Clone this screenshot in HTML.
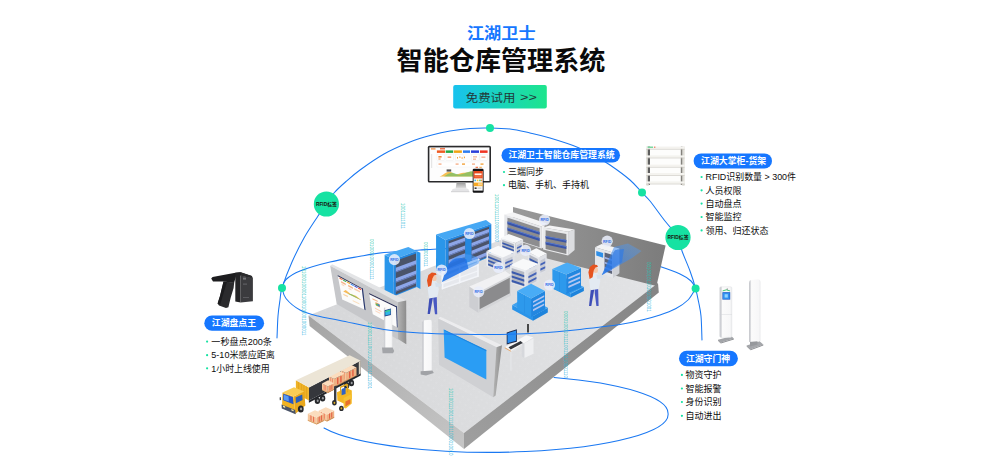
<!DOCTYPE html>
<html lang="zh-CN"><head><meta charset="utf-8"><title>江湖卫士 智能仓库管理系统</title>
<style>
html,body{margin:0;padding:0;background:#fff;}
body{width:1000px;height:459px;overflow:hidden;position:relative;font-family:"Liberation Sans",sans-serif;}
#stage{position:absolute;left:0;top:0;width:1000px;height:459px;overflow:hidden;background:#fff;}
#stage svg{position:absolute;left:0;top:0;display:block;}
.t span{position:absolute;white-space:nowrap;color:transparent;line-height:1;overflow:hidden;}
#stage svg text.lbl{font-family:"Liberation Sans","Noto Sans CJK SC",sans-serif;}
</style></head><body>
<div id="stage">
<div class="t">
<span style="left:466.9px;top:24.9px;font-size:15.7px;width:68.7px">江湖卫士</span>
<span style="left:396.6px;top:47.4px;font-size:25.6px;width:208.8px">智能仓库管理系统</span>
<span style="left:465.8px;top:91.9px;font-size:11.4px;width:49.6px">免费试用</span>
<span style="left:520.0px;top:91.9px;font-size:10.6px;width:16.8px">&gt;&gt;</span>
<span style="left:390.2px;top:257.7px;font-size:3.6px;width:12.3px">RFID</span>
<span style="left:465.2px;top:231.6px;font-size:3.6px;width:12.3px">RFID</span>
<span style="left:437.5px;top:268.1px;font-size:3.6px;width:12.3px">RFID</span>
<span style="left:474.5px;top:290.0px;font-size:3.6px;width:12.3px">RFID</span>
<span style="left:494.3px;top:265.6px;font-size:3.6px;width:12.3px">RFID</span>
<span style="left:540.4px;top:218.1px;font-size:3.6px;width:12.3px">RFID</span>
<span style="left:521.4px;top:248.5px;font-size:3.6px;width:12.3px">RFID</span>
<span style="left:603.0px;top:239.3px;font-size:3.6px;width:12.3px">RFID</span>
<span style="left:545.3px;top:283.1px;font-size:3.6px;width:12.3px">RFID</span>
<span style="left:315.9px;top:201.6px;font-size:4.8px;width:25.1px">RFID标签</span>
<span style="left:667.5px;top:235.1px;font-size:4.8px;width:25.1px">RFID标签</span>
<span style="left:508.4px;top:150.6px;font-size:8.85px;width:110.2px">江湖卫士智能仓库管理系统</span>
<span style="left:507.9px;top:167.3px;font-size:9.0px;width:40.0px">三端同步</span>
<span style="left:507.9px;top:180.5px;font-size:9.0px;width:85.0px">电脑、手机、手持机</span>
<span style="left:701.0px;top:156.3px;font-size:8.85px;width:69.2px">江湖大掌柜-货架</span>
<span style="left:705.5px;top:172.3px;font-size:9.0px;width:94.7px">RFID识别数量 &gt; 300件</span>
<span style="left:705.5px;top:185.6px;font-size:9.0px;width:40.0px">人员权限</span>
<span style="left:705.5px;top:198.9px;font-size:9.0px;width:40.0px">自动盘点</span>
<span style="left:705.5px;top:212.3px;font-size:9.0px;width:40.0px">智能监控</span>
<span style="left:705.5px;top:225.7px;font-size:9.0px;width:67.0px">领用、归还状态</span>
<span style="left:211.8px;top:318.5px;font-size:8.85px;width:48.2px">江湖盘点王</span>
<span style="left:211.3px;top:336.9px;font-size:9.0px;width:64.7px">一秒盘点200条</span>
<span style="left:211.3px;top:350.5px;font-size:9.0px;width:68.0px">5-10米感应距离</span>
<span style="left:211.3px;top:363.6px;font-size:9.0px;width:63.2px">1小时上线使用</span>
<span style="left:685.9px;top:353.9px;font-size:8.85px;width:48.2px">江湖守门神</span>
<span style="left:685.4px;top:370.2px;font-size:9.0px;width:40.0px">物资守护</span>
<span style="left:685.4px;top:383.8px;font-size:9.0px;width:40.0px">智能报警</span>
<span style="left:685.4px;top:397.3px;font-size:9.0px;width:40.0px">身份识别</span>
<span style="left:685.4px;top:411.1px;font-size:9.0px;width:40.0px">自动进出</span>
</div>
<svg width="1000" height="459" viewBox="0 0 1000 459">
<defs>
<linearGradient id="btn" x1="0" x2="1" y1="0" y2="0"><stop offset="0" stop-color="#18c2ee"/><stop offset="1" stop-color="#1de58c"/></linearGradient>
<linearGradient id="slabL" x1="0" x2="1" y1="0" y2="1"><stop offset="0" stop-color="#a4a4a4"/><stop offset="1" stop-color="#c6c6c6"/></linearGradient>
<linearGradient id="slabR" x1="0" x2="1" y1="1" y2="0"><stop offset="0" stop-color="#9f9f9f"/><stop offset="1" stop-color="#848484"/></linearGradient>
<linearGradient id="slabT" x1="0" x2="1" y1="0" y2="0"><stop offset="0" stop-color="#d6d7d9"/><stop offset="1" stop-color="#e2e3e5"/></linearGradient>
<linearGradient id="wallB" x1="0" x2="1" y1="0" y2="0"><stop offset="0" stop-color="#9a9a9a"/><stop offset="1" stop-color="#7c7c7c"/></linearGradient>
<linearGradient id="capG" x1="0" x2="1" y1="0" y2="0"><stop offset="0" stop-color="#b4b4b4"/><stop offset="1" stop-color="#8c8c8c"/></linearGradient>
<linearGradient id="beam" x1="0" x2="1" y1="1" y2="0"><stop offset="0" stop-color="#1a6fe8" stop-opacity=".95"/><stop offset="1" stop-color="#5aa2f5" stop-opacity=".45"/></linearGradient>
<linearGradient id="gateG" x1="0" x2="1" y1="0" y2="0"><stop offset="0" stop-color="#c2c4c9"/><stop offset=".16" stop-color="#dfe0e3"/><stop offset=".22" stop-color="#fbfbfb"/><stop offset=".85" stop-color="#f7f7f8"/><stop offset="1" stop-color="#e9eaec"/></linearGradient>
<linearGradient id="neck" x1="0" x2="0" y1="0" y2="1"><stop offset="0" stop-color="#9a9a9a"/><stop offset="1" stop-color="#e6e6e6"/></linearGradient>
<linearGradient id="binG" x1="0" x2="1" y1="0" y2="0"><stop offset="0" stop-color="#21caae"/><stop offset="1" stop-color="#2ab0e4"/></linearGradient>
<pattern id="dots" width="6" height="6" patternUnits="userSpaceOnUse" patternTransform="rotate(28)"><circle cx="1" cy="1" r=".45" fill="#ececee"/></pattern>
</defs>
<text class="lbl" x="466.9" y="38.7" font-size="15.7" font-weight="bold" fill="#1677ff" textLength="68.7" lengthAdjust="spacingAndGlyphs">江湖卫士</text>
<text class="lbl" x="396.6" y="69.9" font-size="25.6" font-weight="bold" fill="#0a0a0a" textLength="208.8" lengthAdjust="spacingAndGlyphs">智能仓库管理系统</text>
<rect x="453.2" y="85" width="93.6" height="23.6" rx="2" fill="url(#btn)"/>
<text class="lbl" x="465.8" y="101.9" font-size="11.4" fill="#223838" textLength="49.6" lengthAdjust="spacingAndGlyphs">免费试用</text>
<text class="lbl" x="520" y="101.2" font-size="10.6" fill="#223838" textLength="16.8" lengthAdjust="spacingAndGlyphs">&gt;&gt;</text>
<path d="M282.0,288.0 C282.7,286.6 283.0,282.3 286.0,279.5 C289.0,276.7 292.7,273.9 300.0,271.0 C307.3,268.1 320.0,264.4 330.0,262.0 C340.0,259.6 351.0,257.9 360.0,256.3 C369.0,254.7 374.0,253.7 384.0,252.6 C394.0,251.5 409.0,250.7 420.0,250.0 C431.0,249.3 438.5,248.8 450.0,248.4 C461.5,248.0 474.0,247.6 489.0,247.7 C504.0,247.8 521.5,247.9 540.0,249.0 C558.5,250.1 583.3,252.0 600.0,254.0 C616.7,256.0 630.0,258.9 640.0,261.0 C650.0,263.1 653.3,264.3 660.0,266.5 C666.7,268.7 674.8,271.6 680.0,274.0 C685.2,276.4 688.4,278.6 691.0,281.0 C693.6,283.4 694.8,287.3 695.6,288.6" fill="none" stroke="#1a78f2" stroke-width="1.05" stroke-linecap="round" />
<path d="M277.0,338.0 C277.2,334.3 277.5,322.3 278.0,316.0 C278.5,309.7 279.3,304.7 280.0,300.0 C280.7,295.3 280.0,294.3 282.0,288.0 C284.0,281.7 288.3,270.3 292.0,262.0 C295.7,253.7 299.7,245.7 304.0,238.0 C308.3,230.3 314.3,221.7 318.0,216.0 C321.7,210.3 323.3,207.8 326.0,204.0 C328.7,200.2 330.7,196.8 334.0,193.0 C337.3,189.2 341.7,185.3 346.0,181.5 C350.3,177.7 353.7,174.6 360.0,170.0 C366.3,165.4 375.7,158.7 384.0,154.0 C392.3,149.3 402.0,145.2 410.0,142.0 C418.0,138.8 425.3,136.8 432.0,135.0 C438.7,133.2 443.7,132.1 450.0,131.0 C456.3,129.9 463.3,128.9 470.0,128.4 C476.7,127.9 483.3,127.9 490.0,128.0 C496.7,128.1 503.3,128.2 510.0,129.0 C516.7,129.8 523.3,131.5 530.0,133.0 C536.7,134.5 542.0,135.6 550.0,138.0 C558.0,140.4 570.3,144.3 578.0,147.4 C585.7,150.5 590.7,153.6 596.0,156.5 C601.3,159.4 604.3,161.1 610.0,165.0 C615.7,168.9 624.7,175.4 630.0,180.0 C635.3,184.6 638.7,189.1 642.0,192.6 C645.3,196.1 646.2,196.3 650.0,201.0 C653.8,205.7 660.3,215.0 665.0,221.0 C669.7,227.0 675.2,232.0 678.0,237.0 C680.8,242.0 680.0,245.3 682.0,251.0 C684.0,256.7 687.7,264.7 690.0,271.0 C692.3,277.3 694.2,283.4 695.6,288.6 C697.0,293.8 697.7,297.4 698.6,302.0 C699.5,306.6 700.4,309.7 701.0,316.0 C701.6,322.3 701.8,336.0 702.0,340.0" fill="none" stroke="#1a78f2" stroke-width="1.05" stroke-linecap="round" />
<polygon points="308.5,315.4 464,433 658,283 513,235" fill="url(#slabT)" />
<polygon points="308.5,315.4 464,433 658,283 513,235" fill="url(#dots)" />
<polygon points="308.5,315.4 464,433 464,449 309.6,326" fill="url(#slabL)" />
<polygon points="464,433 658,283 658.8,292.5 464,449" fill="url(#slabR)" />
<polygon points="513,207 665.6,245.6 656.5,286 513,250" fill="url(#wallB)" />
<polygon points="504.3,214.4 513,212.2 547,223.5 541.3,226.5" fill="#f4f4f5" />
<polygon points="504.3,214.4 541.3,226.5 541.3,248.5 504.3,236.5" fill="#e6e7ea" />
<polygon points="507.445,217.638 539.635,228.156 539.635,247.3 507.445,236.857" fill="#8d8d8f" />
<polygon points="507.445,221.393 539.635,231.897 539.635,234.757 507.445,224.265" fill="#3854a8" />
<polygon points="507.445,227.579 539.635,238.058 539.635,240.919 507.445,230.451" fill="#3854a8" />
<polygon points="507.445,221.393 539.635,231.897 539.635,232.667 507.445,222.166" fill="#5f80d4" />
<polygon points="507.445,227.579 539.635,238.058 539.635,238.828 507.445,228.352" fill="#5f80d4" />
<polygon points="541.3,226.5 544.5,225 544.5,247 541.3,248.5" fill="#f1f1f3" />
<polygon points="543.1,227.4 549.6,225.6 574.6,229.6 568.1,231.8" fill="#f4f4f5" />
<polygon points="543.1,227.4 568.1,231.8 568.1,255.6 543.1,249.6" fill="#e9eaec" />
<polygon points="545.6,230.3 566.35,234.098 566.35,253.996 545.6,249.082" fill="#88888a" />
<polygon points="545.6,235.89 566.35,240.02 566.35,242.862 545.6,238.573" fill="#3854a8" />
<polygon points="545.6,241.703 566.35,246.179 566.35,249.021 545.6,244.386" fill="#3854a8" />
<polygon points="545.6,235.89 566.35,240.02 566.35,240.849 545.6,236.672" fill="#5f80d4" />
<polygon points="545.6,241.703 566.35,246.179 566.35,247.008 545.6,242.486" fill="#5f80d4" />
<polygon points="568.1,231.8 574.6,229.6 574.6,250 568.1,255.6" fill="#dcdde0" />
<polygon points="595,247.2 601.6,243.9 619.4,248.6 613,252.6" fill="#f2f3f5" />
<polygon points="613,252.6 619.4,248.6 619.4,273.2 613,278" fill="#cfd1d6" />
<polygon points="595,247.2 613,252.6 613,278 595,270.8" fill="#e4e6ea" />
<polygon points="596.26,250.9 603.1,253.047 603.1,257.685 596.26,255.408" fill="#2f8fe8" />
<polygon points="604.54,252.517 612.1,254.861 612.1,274.097 604.54,271.178" fill="#5d6478" />
<polygon points="604.54,256.692 612.1,259.164 612.1,260.935 604.54,258.41" fill="#9fb2e6" />
<polygon points="604.54,261.848 612.1,264.479 612.1,266.25 604.54,263.567" fill="#9fb2e6" />
<polygon points="604.54,266.759 612.1,269.541 612.1,271.312 604.54,268.477" fill="#9fb2e6" />
<polygon points="436.1,234.4 445.4,240 445.4,276 436,270.5" fill="#2a96ea" />
<polygon points="436.1,234.4 486,220 491.3,223.9 445.4,240" fill="#46a8f4" />
<polygon points="445.4,240 491.3,223.9 491.3,256 445.4,276" fill="#2588e0" />
<polygon points="448.613,241.017 465.137,235.136 465.137,266.37 448.613,273.528" fill="#4a5369" />
<polygon points="448.613,243.518 465.137,237.539 465.137,240.971 448.613,247.09" fill="#8da6e8" />
<polygon points="448.613,251.735 465.137,245.433 465.137,248.866 448.613,255.307" fill="#8da6e8" />
<polygon points="448.613,259.952 465.137,253.328 465.137,256.76 448.613,263.525" fill="#8da6e8" />
<polygon points="448.613,268.169 465.137,261.222 465.137,264.654 448.613,271.742" fill="#8da6e8" />
<polygon points="448.613,247.09 465.137,240.971 465.137,241.829 448.613,247.983" fill="#6f86c8" />
<polygon points="448.613,255.307 465.137,248.866 465.137,249.724 448.613,256.201" fill="#6f86c8" />
<polygon points="448.613,263.525 465.137,256.76 465.137,257.618 448.613,264.418" fill="#6f86c8" />
<polygon points="448.613,271.742 465.137,264.654 465.137,265.512 448.613,272.635" fill="#6f86c8" />
<polygon points="471.563,232.85 489.005,226.643 489.005,256.031 471.563,263.587" fill="#4a5369" />
<polygon points="471.563,235.214 489.005,228.903 489.005,232.133 471.563,238.592" fill="#8da6e8" />
<polygon points="471.563,242.983 489.005,236.331 489.005,239.561 471.563,246.36" fill="#8da6e8" />
<polygon points="471.563,250.751 489.005,243.759 489.005,246.989 471.563,254.129" fill="#8da6e8" />
<polygon points="471.563,258.52 489.005,251.187 489.005,254.416 471.563,261.898" fill="#8da6e8" />
<polygon points="471.563,238.592 489.005,232.133 489.005,232.94 471.563,239.436" fill="#6f86c8" />
<polygon points="471.563,246.36 489.005,239.561 489.005,240.368 471.563,247.205" fill="#6f86c8" />
<polygon points="471.563,254.129 489.005,246.989 489.005,247.796 471.563,254.974" fill="#6f86c8" />
<polygon points="471.563,261.898 489.005,254.416 489.005,255.224 471.563,262.742" fill="#6f86c8" />
<polygon points="384.6,254.8 393.5,259.4 393.5,296.5 384.6,291" fill="#2a96ea" />
<polygon points="384.6,254.8 408.3,246.9 416.7,251.1 393.5,259.4" fill="#46a8f4" />
<polygon points="393.5,259.4 416.7,251.1 416.7,287 393.5,296.5" fill="#2588e0" />
<polygon points="395.82,260.789 416.004,253.505 416.004,286.207 395.82,294.441" fill="#4a5369" />
<polygon points="395.82,267.815 416.004,260.333 416.004,263.927 395.82,271.513" fill="#8da6e8" />
<polygon points="395.82,278.169 416.004,270.395 416.004,273.989 395.82,281.867" fill="#8da6e8" />
<polygon points="395.82,287.045 416.004,279.02 416.004,282.613 395.82,290.743" fill="#8da6e8" />
<polygon points="395.82,271.513 416.004,263.927 416.004,264.825 395.82,272.438" fill="#6f86c8" />
<polygon points="395.82,281.867 416.004,273.989 416.004,274.887 395.82,282.792" fill="#6f86c8" />
<polygon points="395.82,290.743 416.004,282.613 416.004,283.512 395.82,291.667" fill="#6f86c8" />
<polygon points="416.7,251.1 420.4,252.8 420.4,289 416.7,287" fill="#2a96ea" />
<polygon points="500.9,237.9 515.3,243.1 515.3,256.1 500.9,250.9" fill="#e9ebef" />
<polygon points="515.3,243.1 523.1,239.2 523.1,252.2 515.3,256.1" fill="#dfe1e6" />
<polygon points="515.3,243.1 523.1,239.2 508.7,234 500.9,237.9" fill="#f8f9fa" />
<polygon points="502.34,239.98 513.86,244.14 513.86,254.93 502.34,250.77" fill="#b4b8c2" />
<polygon points="502.34,242.32 513.86,246.48 513.86,248.04 502.34,243.88" fill="#3a5aad" />
<polygon points="502.34,245.57 513.86,249.73 513.86,251.29 502.34,247.13" fill="#3a5aad" />
<polygon points="502.34,248.82 513.86,252.98 513.86,254.54 502.34,250.38" fill="#3a5aad" />
<polygon points="516.86,245.18 521.696,242.762 521.696,251.862 516.86,254.28" fill="#c6c9d2" />
<polygon points="516.86,247.52 521.696,245.102 521.696,246.662 516.86,249.08" fill="#4363b8" />
<polygon points="516.86,251.16 521.696,248.742 521.696,250.302 516.86,252.72" fill="#4363b8" />
<polygon points="528.4,252.2 538.8,257.4 538.8,275 528.4,269.8" fill="#e9ebef" />
<polygon points="538.8,257.4 546.7,253.5 546.7,271.1 538.8,275" fill="#dfe1e6" />
<polygon points="538.8,257.4 546.7,253.5 536.3,248.3 528.4,252.2" fill="#f8f9fa" />
<polygon points="529.44,254.832 537.76,258.992 537.76,273.6 529.44,269.44" fill="#b4b8c2" />
<polygon points="529.44,258 537.76,262.16 537.76,264.272 529.44,260.112" fill="#3a5aad" />
<polygon points="529.44,262.4 537.76,266.56 537.76,268.672 529.44,264.512" fill="#3a5aad" />
<polygon points="529.44,266.8 537.76,270.96 537.76,273.072 529.44,268.912" fill="#3a5aad" />
<polygon points="540.38,260.492 545.278,258.074 545.278,270.394 540.38,272.812" fill="#c6c9d2" />
<polygon points="540.38,263.66 545.278,261.242 545.278,263.354 540.38,265.772" fill="#4363b8" />
<polygon points="540.38,268.588 545.278,266.17 545.278,268.282 540.38,270.7" fill="#4363b8" />
<polygon points="486.5,250.9 502.9,257.4 502.9,272.4 486.5,265.9" fill="#e9ebef" />
<polygon points="502.9,257.4 514.6,252.2 514.6,267.2 502.9,272.4" fill="#dfe1e6" />
<polygon points="502.9,257.4 514.6,252.2 498.2,245.7 486.5,250.9" fill="#f8f9fa" />
<polygon points="488.14,253.35 501.26,258.55 501.26,271 488.14,265.8" fill="#b4b8c2" />
<polygon points="488.14,256.05 501.26,261.25 501.26,263.05 488.14,257.85" fill="#3a5aad" />
<polygon points="488.14,259.8 501.26,265 501.26,266.8 488.14,261.6" fill="#3a5aad" />
<polygon points="488.14,263.55 501.26,268.75 501.26,270.55 488.14,265.35" fill="#3a5aad" />
<polygon points="505.24,259.66 512.494,256.436 512.494,266.936 505.24,270.16" fill="#c6c9d2" />
<polygon points="505.24,262.36 512.494,259.136 512.494,260.936 505.24,264.16" fill="#4363b8" />
<polygon points="505.24,266.56 512.494,263.336 512.494,265.136 505.24,268.36" fill="#4363b8" />
<polygon points="510.1,265.3 525.8,270.5 525.8,288 510.1,282.8" fill="#e9ebef" />
<polygon points="525.8,270.5 538.8,263.9 538.8,281.4 525.8,288" fill="#dfe1e6" />
<polygon points="525.8,270.5 538.8,263.9 523.1,258.7 510.1,265.3" fill="#f8f9fa" />
<polygon points="511.67,267.92 524.23,272.08 524.23,286.605 511.67,282.445" fill="#b4b8c2" />
<polygon points="511.67,271.07 524.23,275.23 524.23,277.33 511.67,273.17" fill="#3a5aad" />
<polygon points="511.67,275.445 524.23,279.605 524.23,281.705 511.67,277.545" fill="#3a5aad" />
<polygon points="511.67,279.82 524.23,283.98 524.23,286.08 511.67,281.92" fill="#3a5aad" />
<polygon points="528.4,273.03 536.46,268.938 536.46,281.188 528.4,285.28" fill="#c6c9d2" />
<polygon points="528.4,276.18 536.46,272.088 536.46,274.188 528.4,278.28" fill="#4363b8" />
<polygon points="528.4,281.08 536.46,276.988 536.46,279.088 528.4,283.18" fill="#4363b8" />
<polygon points="441.5,271.9 478.3,258.8 478.3,276.8 441.8,289.5" fill="#eef2fa" fill-opacity=".55"/>
<polygon points="441.5,271.9 443.1,271.4 443.4,289 441.8,289.5" fill="#f4f6fa" />
<polygon points="458.796,265.743 460.396,265.243 460.555,283.031 458.955,283.531" fill="#f4f6fa" />
<polygon points="477.196,259.193 478.796,258.693 478.805,276.681 477.205,277.181" fill="#f4f6fa" />
<polygon points="441.5,271.9 478.3,258.8 478.3,260.24 441.524,273.308" fill="#f3f5f9" fill-opacity=".9"/>
<polygon points="441.593,277.356 478.3,264.38 478.3,265.82 441.617,278.764" fill="#f3f5f9" fill-opacity=".9"/>
<polygon points="441.689,282.988 478.3,270.14 478.3,271.58 441.713,284.396" fill="#f3f5f9" fill-opacity=".9"/>
<polygon points="441.776,288.092 478.3,275.36 478.3,276.8 441.8,289.5" fill="#f3f5f9" fill-opacity=".9"/>
<polygon points="441.5,271.9 478.3,258.8 480.5,260 443.7,273.2" fill="#fbfcfe" />
<path d="M442,282 L446.6,268 Q451,257.5 459,255.2 Q468,252.6 475.5,256.4 Q480,259 478.6,263.6 Z" fill="#4a98f4" fill-opacity=".55"/>
<path d="M442,282 L446.6,268 Q450,260.5 456,258.6 Q462,257 466.5,259.4 L468.4,268.4 Z" fill="#1f6fe6" fill-opacity=".78"/>
<polygon points="469.3,286.6 478.3,292.3 478.3,312.7 469.3,307" fill="#cdced2" />
<polygon points="478.3,292.3 511,275.1 511,295.6 478.3,312.7" fill="#d4d5d8" />
<polygon points="479.6,293.6 509.8,277.8 509.8,293.2 479.6,309.2" fill="#8b8b8d" />
<polygon points="469.3,286.6 505.3,271 511,275.1 478.3,292.3" fill="#f1f1f3" />
<polygon points="570.9,297.6 552.4,288.6 552.4,284.6 570.9,293.6" fill="#2a93e8" />
<polygon points="570.9,297.6 583.9,291.1 583.9,287.1 570.9,293.6" fill="#1e84dc" />
<polygon points="570.9,293.6 583.9,287.1 565.4,278.1 552.4,284.6" fill="#3fa2f0" />
<polygon points="566.3,293.9 552.4,288.4 552.4,268.9 566.3,274.4" fill="#2d99ec" />
<polygon points="566.3,293.9 581,287.5 581,268 566.3,274.4" fill="#2287e0" />
<polygon points="566.3,274.4 581,268 567.1,262.5 552.4,268.9" fill="#49acf6" />
<polygon points="568.358,277.404 580.118,272.284 580.118,274.234 568.358,279.354" fill="#b4c6f2" />
<polygon points="568.358,281.694 580.118,276.574 580.118,278.524 568.358,283.644" fill="#b4c6f2" />
<polygon points="568.358,285.984 580.118,280.864 580.118,282.814 568.358,287.934" fill="#b4c6f2" />
<polygon points="559.211,272.375 559.628,272.54 559.628,291.26 559.211,291.095" fill="#2387dc" />
<polygon points="429.6,295.9 433.4,294.9 429.9,314 427.6,314" fill="#3d4db6" />
<polygon points="433,293.9 436.7,294.9 437.2,314.2 435,314.2 433.4,301.4" fill="#4858c2" />
<polygon points="428.4,281 434.6,279.4 437.8,283.4 438.8,289.4 437.4,297 429,298.4 427.8,289.4" fill="#e3eaf2" />
<polygon points="435,282.4 441.8,284 441.6,286.2 435.8,287" fill="#d6e0ec" />
<ellipse cx="434.3" cy="278.2" rx="2.3" ry="2.9" fill="#f4c9ae"/>
<polygon points="431.8,272.6 435.6,273 436.6,274.8 434,275.6 432.4,278.4 431.2,285.4 428.2,287 427,280.4 428.4,275" fill="#e5531f" />
<polygon points="533,320.7 512.2,309.6 512.2,305 533,316.1" fill="#2a93e8" />
<polygon points="533,320.7 547.8,312.4 547.8,307.8 533,316.1" fill="#1e84dc" />
<polygon points="533,316.1 547.8,307.8 527,296.7 512.2,305" fill="#3fa2f0" />
<polygon points="531.1,317 517.2,309.6 517.2,291.1 531.1,298.5" fill="#2d99ec" />
<polygon points="531.1,317 545,309.6 545,291.1 531.1,298.5" fill="#2287e0" />
<polygon points="531.1,298.5 545,291.1 531.1,283.7 517.2,291.1" fill="#49acf6" />
<polygon points="533.046,301.164 544.166,295.244 544.166,297.094 533.046,303.014" fill="#b4c6f2" />
<polygon points="533.046,305.234 544.166,299.314 544.166,301.164 533.046,307.084" fill="#b4c6f2" />
<polygon points="533.046,309.304 544.166,303.384 544.166,305.234 533.046,311.154" fill="#b4c6f2" />
<polygon points="524.011,295.466 524.428,295.688 524.428,313.448 524.011,313.226" fill="#2387dc" />
<polygon points="601.7,275.2 614,247 628,243.5 641.5,251 632,258" fill="url(#beam)" opacity=".8"/>
<polygon points="601.7,275.2 615,250 624,249 622,262" fill="#2a78ea" fill-opacity=".6"/>
<polygon points="591,287.8 594.8,286.8 591.3,305.9 589,305.9" fill="#3d4db6" />
<polygon points="594.4,285.8 598.1,286.8 598.6,306.1 596.4,306.1 594.8,293.3" fill="#4858c2" />
<polygon points="589.8,272.9 596,271.3 599.2,275.3 600.2,281.3 598.8,288.9 590.4,290.3 589.2,281.3" fill="#e3eaf2" />
<polygon points="596.4,274.3 603.2,275.9 603,278.1 597.2,278.9" fill="#d6e0ec" />
<ellipse cx="595.7" cy="270.1" rx="2.3" ry="2.9" fill="#f4c9ae"/>
<polygon points="593.2,264.5 597,264.9 598,266.7 595.4,267.5 593.8,270.3 592.6,277.3 589.6,278.9 588.4,272.3 589.8,266.9" fill="#e5531f" />
<circle cx="394.4" cy="259.6" r="5.6" fill="#e8edfb" fill-opacity=".88"/>
<text class="lbl" x="390.2" y="260.9" font-size="3.6" font-weight="bold" fill="#2f6fe8" textLength="8.4" lengthAdjust="spacingAndGlyphs">RFID</text>
<circle cx="469.4" cy="233.5" r="5.6" fill="#e8edfb" fill-opacity=".88"/>
<text class="lbl" x="465.2" y="234.8" font-size="3.6" font-weight="bold" fill="#2f6fe8" textLength="8.4" lengthAdjust="spacingAndGlyphs">RFID</text>
<circle cx="441.7" cy="270" r="5.6" fill="#e8edfb" fill-opacity=".88"/>
<text class="lbl" x="437.5" y="271.3" font-size="3.6" font-weight="bold" fill="#2f6fe8" textLength="8.4" lengthAdjust="spacingAndGlyphs">RFID</text>
<circle cx="478.7" cy="291.9" r="5.6" fill="#e8edfb" fill-opacity=".88"/>
<text class="lbl" x="474.5" y="293.2" font-size="3.6" font-weight="bold" fill="#2f6fe8" textLength="8.4" lengthAdjust="spacingAndGlyphs">RFID</text>
<circle cx="498.5" cy="267.5" r="5.6" fill="#e8edfb" fill-opacity=".88"/>
<text class="lbl" x="494.3" y="268.8" font-size="3.6" font-weight="bold" fill="#2f6fe8" textLength="8.4" lengthAdjust="spacingAndGlyphs">RFID</text>
<circle cx="544.6" cy="220" r="5.6" fill="#e8edfb" fill-opacity=".88"/>
<text class="lbl" x="540.4" y="221.3" font-size="3.6" font-weight="bold" fill="#2f6fe8" textLength="8.4" lengthAdjust="spacingAndGlyphs">RFID</text>
<circle cx="525.6" cy="250.4" r="5.6" fill="#e8edfb" fill-opacity=".88"/>
<text class="lbl" x="521.4" y="251.7" font-size="3.6" font-weight="bold" fill="#2f6fe8" textLength="8.4" lengthAdjust="spacingAndGlyphs">RFID</text>
<circle cx="607.2" cy="241.2" r="5.6" fill="#e8edfb" fill-opacity=".88"/>
<text class="lbl" x="603" y="242.5" font-size="3.6" font-weight="bold" fill="#2f6fe8" textLength="8.4" lengthAdjust="spacingAndGlyphs">RFID</text>
<circle cx="549.5" cy="285" r="5.6" fill="#e8edfb" fill-opacity=".88"/>
<text class="lbl" x="545.3" y="286.3" font-size="3.6" font-weight="bold" fill="#2f6fe8" textLength="8.4" lengthAdjust="spacingAndGlyphs">RFID</text>
<polygon points="330.2,265.7 332.2,264.2 406.2,300.6 397.8,302.2" fill="#e3e4e6" />
<polygon points="330.2,265.7 397.8,302.2 397.8,339.4 336.7,304" fill="#c6c7ca" />
<polygon points="397.8,302.2 406.2,300.6 406.3,344.2 397.8,338.9" fill="url(#capG)" />
<polygon points="337.6,275 361.7,288 364.4,309.6 342.2,299.4" fill="#fbfbfb" />
<polygon points="361.7,288 362.9,288.3 365.6,310.2 364.4,309.6" fill="#27376e" />
<polygon points="337.6,275 361.7,288 361.835,289.08 337.83,276.22" fill="#2b2f55" />
<polygon points="339.36,277.476 342.476,279.141 342.688,280.334 339.584,278.688" fill="#ef5a22" />
<polygon points="343.075,279.461 346.191,281.125 346.388,282.297 343.284,280.651" fill="#27a844" />
<polygon points="346.79,281.445 349.905,283.11 350.088,284.26 346.985,282.614" fill="#f0a514" />
<polygon points="350.505,283.43 353.62,285.095 353.788,286.223 350.685,284.577" fill="#2e7df0" />
<polygon points="354.22,285.415 357.335,287.079 357.488,288.186 354.385,286.54" fill="#2c3fd9" />
<polygon points="357.934,287.399 361.05,289.064 361.188,290.149 358.085,288.502" fill="#f03524" />
<polygon points="340.892,281.124 345.636,283.612 345.918,285.261 341.201,282.812" fill="#f6b58a" />
<polygon points="341.333,283.536 344.157,284.995 344.408,286.422 341.598,284.983" fill="#fbd9c4" />
<polygon points="348.008,284.856 352.752,287.344 352.994,288.934 348.277,286.486" fill="#f6b58a" />
<polygon points="354.175,288.09 359.868,291.076 360.07,292.608 354.409,289.669" fill="#f9c9a8" />
<polygon points="348.469,287.65 351.288,289.102 351.505,290.479 348.699,289.046" fill="#fbd9c4" />
<polygon points="343.185,293.666 347.732,295.863 347.973,297.277 343.45,295.114" fill="#f9d2a0" />
<polygon points="352.57,299.9 359.344,303.128 359.529,304.458 352.789,301.28" fill="#fbe0c0" />
<path d="M343.203,291.48 L345.688,290.1 L350.58,294.04 L355.741,295.763 L361.024,299.828 L361.082,300.266 Z" fill="#f6a623" fill-opacity=".75"/>
<path d="M347.329,293.507 L351.657,294.15 L356.367,297.115 L361.082,300.266 Z" fill="#5bbf6a" fill-opacity=".7"/>
<polygon points="369,293 396,306 396.9,327.2 372.8,314.3" fill="#fbfbfb" />
<polygon points="369,293 396,306 396.054,307.272 369.228,294.278" fill="#2b2f55" />
<polygon points="396,306 397,306.3 397.6,327.6 396.9,327.2" fill="#27376e" />
<polygon points="372.332,298.132 377.627,300.729 377.803,302.005 372.542,299.41" fill="#f6b58a" />
<polygon points="375.366,301.984 379.547,304.059 379.988,307.461 375.881,305.389" fill="#f2a65a" />
<polygon points="377.286,303.53 379.629,304.697 379.905,306.824 377.587,305.657" fill="#3b7de0" />
<polygon points="375.559,303.261 378.155,304.557 378.389,306.259 375.817,304.963" fill="#58b86a" />
<polygon points="374.816,307.592 381.384,310.956 381.542,312.232 375.02,308.869" fill="#fbd0b4" />
<polygon points="375.224,310.146 380.206,312.732 380.375,314.007 375.427,311.423" fill="#fbd9c4" />
<polygon points="385.818,307.172 392.089,310.285 392.171,311.558 385.942,308.446" fill="#fbe0cc" />
<polygon points="386.333,312.482 391.414,315.071 391.488,316.132 386.436,313.544" fill="#fbe0cc" />
<rect x="383.9" y="307.6" width="8.4" height="41" rx="1" fill="url(#gateG)"/>
<polygon points="382,347.5 392.6,347.5 394.2,351 393,353.3 382.6,353.3" fill="#a3a5a9" />
<polygon points="384.6,310.2 390.9,308.6 390.9,315 384.6,316.6" fill="#1f3f8a" />
<polygon points="385.3,310.9 390.3,309.6 390.3,314.3 385.3,315.6" fill="#2fb6e6" />
<polygon points="385.3,310.9 390.3,309.6 390.3,311 385.3,312.3" fill="#3fd08a" />
<path d="M422.4,372 V322.5 Q422.4,320.4 424.5,320.2 L430,319.8 Q432,319.8 432,322 V371.5 Z" fill="url(#gateG)"/>
<polygon points="420.6,371.2 432.4,370.4 433.8,373 426,375.6 420.6,374.6" fill="#a0a2a6" />
<polygon points="438.1,318.5 440.3,316.8 502,345.3 496.5,347.2" fill="#ececee" />
<polygon points="438.1,318.5 496.5,347.2 493.2,397.2 439,364.8" fill="#cfd0d3" />
<polygon points="496.5,347.2 502,345.3 495.6,395.6 493.2,397.2" fill="url(#capG)" />
<polygon points="443.7,329.6 486.3,350 486.3,379.6 444.6,357.4" fill="#2a9df4" />
<polygon points="443.7,329.6 486.3,350 486.3,351.3 444.9,331" fill="#1c86e0" />
<polygon points="504.8,347.2 526.1,335.2 533.5,337.6 511.3,350.9" fill="#f7f7f8" />
<polygon points="504.8,347.2 511.3,350.9 511.3,352 504.8,348.3" fill="#e9a86a" />
<polygon points="511.3,350.9 533.5,337.6 533.5,339 511.3,352.3" fill="#e3e4e7" />
<polygon points="524.3,343.6 533.5,338.6 533.5,353.7 524.3,358" fill="#eeeff1" />
<polygon points="521.8,342.4 524.3,343.6 524.3,358 521.8,356.6" fill="#d6d8dc" />
<polygon points="510.2,351.5 511.6,352.2 511.6,371.3 510.2,370.6" fill="#e4e5e8" />
<polygon points="506.7,332.4 516.9,329.3 516.9,341.7 506.7,344.4" fill="#1d2b4f" />
<polygon points="507.5,333.2 516.1,330.6 516.1,340.8 507.5,343.2" fill="#2b8ef0" />
<polygon points="508.5,347.2 520.6,341.1 522.8,343 510.7,349.6" fill="#33363c" />
<polygon points="527.2,324 528.8,324 528.8,332.4 527.2,332.4" fill="#222" />
<path d="M282.0,288.0 C282.7,289.8 283.0,294.8 286.0,298.5 C289.0,302.2 294.7,307.1 300.0,310.0 C305.3,312.9 311.3,314.3 318.0,316.0 C324.7,317.7 329.0,318.2 340.0,320.4 C351.0,322.6 370.7,327.3 384.0,329.4 C397.3,331.5 407.3,332.2 420.0,333.0 C432.7,333.8 446.7,334.0 460.0,334.2 C473.3,334.4 486.7,334.6 500.0,334.4 C513.3,334.2 526.7,333.8 540.0,333.0 C553.3,332.2 566.7,330.8 580.0,329.4 C593.3,328.0 609.7,326.2 620.0,324.6 C630.3,323.0 635.3,321.6 642.0,320.0 C648.7,318.4 654.3,316.9 660.0,315.0 C665.7,313.1 671.3,311.0 676.0,308.5 C680.7,306.0 684.7,303.3 688.0,300.0 C691.3,296.7 694.3,290.5 695.6,288.6" fill="none" stroke="#1a78f2" stroke-width="1.05" stroke-linecap="round" />
<path d="M324,428 A178,38 0 0 0 668,413 A178,38 0 0 0 554,377.5" fill="none" stroke="#1a78f2" stroke-width="1.05" stroke-linecap="round" />
<circle cx="490" cy="128" r="4" fill="#16e2a2"/>
<circle cx="642" cy="192.6" r="4" fill="#16e2a2"/>
<circle cx="282" cy="288" r="4" fill="#16e2a2"/>
<circle cx="695.6" cy="288.6" r="4" fill="#16e2a2"/>
<circle cx="326.4" cy="204" r="12.6" fill="#16e2a2"/>
<text class="lbl" x="315.9" y="205.8" font-size="4.8" font-weight="bold" fill="#1a1410" textLength="21" lengthAdjust="spacingAndGlyphs">RFID标签</text>
<circle cx="678" cy="237.5" r="12.6" fill="#16e2a2"/>
<text class="lbl" x="667.5" y="239.3" font-size="4.8" font-weight="bold" fill="#1a1410" textLength="21" lengthAdjust="spacingAndGlyphs">RFID标签</text>
<rect x="501.5" y="148" width="118.5" height="14.5" rx="7.25" fill="#1677ff"/>
<text class="lbl" x="508.4" y="158.4" font-size="8.85" font-weight="bold" fill="#fff" textLength="106.2" lengthAdjust="spacingAndGlyphs">江湖卫士智能仓库管理系统</text>
<circle cx="504" cy="172" r="1.1" fill="#16e2a2"/>
<text class="lbl" x="507.9" y="175.2" font-size="9" fill="#0c0c0c">三端同步</text>
<circle cx="504" cy="185.2" r="1.1" fill="#16e2a2"/>
<text class="lbl" x="507.9" y="188.4" font-size="9" fill="#0c0c0c">电脑、手机、手持机</text>
<rect x="693.6" y="153.4" width="78.39999999999998" height="15.0" rx="7.5" fill="#1677ff"/>
<text class="lbl" x="701" y="164.1" font-size="8.85" font-weight="bold" fill="#fff" textLength="65.2" lengthAdjust="spacingAndGlyphs">江湖大掌柜-货架</text>
<circle cx="701.6" cy="177" r="1.1" fill="#16e2a2"/>
<text class="lbl" x="705.5" y="180.2" font-size="9" fill="#0c0c0c" textLength="90.5" lengthAdjust="spacingAndGlyphs">RFID识别数量 &gt; 300件</text>
<circle cx="701.6" cy="190.3" r="1.1" fill="#16e2a2"/>
<text class="lbl" x="705.5" y="193.5" font-size="9" fill="#0c0c0c">人员权限</text>
<circle cx="701.6" cy="203.6" r="1.1" fill="#16e2a2"/>
<text class="lbl" x="705.5" y="206.8" font-size="9" fill="#0c0c0c">自动盘点</text>
<circle cx="701.6" cy="217" r="1.1" fill="#16e2a2"/>
<text class="lbl" x="705.5" y="220.2" font-size="9" fill="#0c0c0c">智能监控</text>
<circle cx="701.6" cy="230.4" r="1.1" fill="#16e2a2"/>
<text class="lbl" x="705.5" y="233.6" font-size="9" fill="#0c0c0c">领用、归还状态</text>
<rect x="204.3" y="315.5" width="59.80000000000001" height="15.300000000000011" rx="7.650000000000006" fill="#1677ff"/>
<text class="lbl" x="211.8" y="326.3" font-size="8.85" font-weight="bold" fill="#fff">江湖盘点王</text>
<circle cx="207.1" cy="341.6" r="1.1" fill="#16e2a2"/>
<text class="lbl" x="211.3" y="344.8" font-size="9" fill="#0c0c0c" textLength="60.6" lengthAdjust="spacingAndGlyphs">一秒盘点200条</text>
<circle cx="207.1" cy="355.2" r="1.1" fill="#16e2a2"/>
<text class="lbl" x="211.3" y="358.4" font-size="9" fill="#0c0c0c" textLength="63.6" lengthAdjust="spacingAndGlyphs">5-10米感应距离</text>
<circle cx="207.1" cy="368.3" r="1.1" fill="#16e2a2"/>
<text class="lbl" x="211.3" y="371.5" font-size="9" fill="#0c0c0c" textLength="58.4" lengthAdjust="spacingAndGlyphs">1小时上线使用</text>
<rect x="679" y="350.8" width="58.89999999999998" height="15.399999999999977" rx="7.699999999999989" fill="#1677ff"/>
<text class="lbl" x="685.9" y="361.7" font-size="8.85" font-weight="bold" fill="#fff">江湖守门神</text>
<circle cx="681.9" cy="374.9" r="1.1" fill="#16e2a2"/>
<text class="lbl" x="685.4" y="378.1" font-size="9" fill="#0c0c0c">物资守护</text>
<circle cx="681.9" cy="388.5" r="1.1" fill="#16e2a2"/>
<text class="lbl" x="685.4" y="391.7" font-size="9" fill="#0c0c0c">智能报警</text>
<circle cx="681.9" cy="402" r="1.1" fill="#16e2a2"/>
<text class="lbl" x="685.4" y="405.2" font-size="9" fill="#0c0c0c">身份识别</text>
<circle cx="681.9" cy="415.8" r="1.1" fill="#16e2a2"/>
<text class="lbl" x="685.4" y="419" font-size="9" fill="#0c0c0c">自动进出</text>
<polygon points="308.9,387.6 360.7,360.7 360.7,373.5 308.9,400.6" fill="#35373c" />
<polygon points="346,381.5 341,378.9 341,370.4 346,373" fill="#f6c79e" />
<polygon points="346,381.5 356.5,376.1 356.5,367.6 346,373" fill="#eeb184" />
<polygon points="346,373 356.5,367.6 351.5,365 341,370.4" fill="#fbdcbd" />
<polygon points="349.15,371.805 350.41,371.157 350.41,377.532 349.15,378.18" fill="#e2533a" />
<polygon points="342.5,371.605 343.1,371.917 343.1,378.292 342.5,377.98" fill="#e8694c" />
<polygon points="352.3,370.185 353.56,369.537 353.56,375.912 352.3,376.56" fill="#e2533a" />
<polygon points="344,372.385 344.6,372.697 344.6,379.072 344,378.76" fill="#e8694c" />
<polygon points="346,380.31 356.5,374.91 356.5,376.1 346,381.5" fill="#c98e55" />
<polygon points="341,377.71 346,380.31 346,381.5 341,378.9" fill="#d9a266" />
<polygon points="334,387.6 329,385 329,376.5 334,379.1" fill="#f6c79e" />
<polygon points="334,387.6 344.5,382.2 344.5,373.7 334,379.1" fill="#eeb184" />
<polygon points="334,379.1 344.5,373.7 339.5,371.1 329,376.5" fill="#fbdcbd" />
<polygon points="337.15,377.905 338.41,377.257 338.41,383.632 337.15,384.28" fill="#e2533a" />
<polygon points="330.5,377.705 331.1,378.017 331.1,384.392 330.5,384.08" fill="#e8694c" />
<polygon points="340.3,376.285 341.56,375.637 341.56,382.012 340.3,382.66" fill="#e2533a" />
<polygon points="332,378.485 332.6,378.797 332.6,385.172 332,384.86" fill="#e8694c" />
<polygon points="334,386.41 344.5,381.01 344.5,382.2 334,387.6" fill="#c98e55" />
<polygon points="329,383.81 334,386.41 334,387.6 329,385" fill="#d9a266" />
<polygon points="295.9,380.2 308.9,387.6 308.9,400.6 295.9,393.6" fill="#efb226" />
<rect x="298.5" y="381.7" width=".5" height="12.6" fill="#d99a14"/>
<rect x="301.1" y="383.2" width=".5" height="12.6" fill="#d99a14"/>
<rect x="303.7" y="384.6" width=".5" height="12.6" fill="#d99a14"/>
<rect x="306.3" y="386.1" width=".5" height="12.6" fill="#d99a14"/>
<polygon points="295.9,380.2 349.6,355.2 360.7,360.7 308.9,387.6" fill="#ece5d6" />
<polygon points="358.8,361.8 360.7,360.7 360.7,373.5 358.8,374.5" fill="#d9d2c4" />
<polygon points="308.9,400.6 360.7,373.5 360.7,375.6 308.9,402.8" fill="#23252a" />
<ellipse cx="317.4" cy="400.8" rx="2.7" ry="3.3" fill="#26282c"/><ellipse cx="317.7" cy="400.8" rx="1" ry="1.3" fill="#9a9ca0"/>
<ellipse cx="322.6" cy="398.2" rx="2.7" ry="3.3" fill="#26282c"/><ellipse cx="322.90000000000003" cy="398.2" rx="1" ry="1.3" fill="#9a9ca0"/>
<ellipse cx="346.6" cy="385.4" rx="2.7" ry="3.3" fill="#26282c"/><ellipse cx="346.90000000000003" cy="385.4" rx="1" ry="1.3" fill="#9a9ca0"/>
<ellipse cx="351.4" cy="383" rx="2.7" ry="3.3" fill="#26282c"/><ellipse cx="351.7" cy="383" rx="1" ry="1.3" fill="#9a9ca0"/>
<polygon points="282.5,392.5 293.6,396.5 295.4,413.8 282,407.3" fill="#f2b322" />
<polygon points="293.6,396.5 304.2,391.4 305.4,405.5 295.4,413.8" fill="#e9a81c" />
<polygon points="282.5,392.5 294,387.2 304.2,391.4 293.6,396.5" fill="#f9cd55" />
<polygon points="283.3,393.7 292.9,397.1 293.5,404.3 283.1,400.3" fill="#2456c8" />
<polygon points="284,394.8 288.6,396.4 288.8,401.6 283.9,399.7" fill="#5a9af2" />
<polygon points="295.6,397.6 302.2,394.4 302.6,399.9 295.9,403.3" fill="#2a5fb8" />
<polygon points="281.5,404.4 295.2,409.9 295.7,414.3 281.8,408.4" fill="#4a5468" />
<polygon points="283,405.6 285.2,406.5 285.2,407.9 283,407" fill="#f6e7a6" />
<polygon points="291.4,409 293.6,409.9 293.6,411.3 291.4,410.4" fill="#f6e7a6" />
<polygon points="279.6,397.4 280.8,397 281,400 279.8,400.2" fill="#3a3d44" />
<ellipse cx="300.8" cy="408.9" rx="2.9" ry="3.5" fill="#26282c"/><ellipse cx="301.1" cy="408.9" rx="1.1" ry="1.4" fill="#9a9ca0"/>
<polygon points="327.8,393 322,390.1 322,383.5 327.8,386.4" fill="#f6c79e" />
<polygon points="327.8,393 334,389.8 334,383.2 327.8,386.4" fill="#eeb184" />
<polygon points="327.8,386.4 334,383.2 328.2,380.3 322,383.5" fill="#fbdcbd" />
<polygon points="329.66,385.77 330.404,385.386 330.404,390.336 329.66,390.72" fill="#e2533a" />
<polygon points="323.74,384.7 324.436,385.048 324.436,389.998 323.74,389.65" fill="#e8694c" />
<polygon points="331.52,384.81 332.264,384.426 332.264,389.376 331.52,389.76" fill="#e2533a" />
<polygon points="325.48,385.57 326.176,385.918 326.176,390.868 325.48,390.52" fill="#e8694c" />
<polygon points="327.8,392.076 334,388.876 334,389.8 327.8,393" fill="#c98e55" />
<polygon points="322,389.176 327.8,392.076 327.8,393 322,390.1" fill="#d9a266" />
<polygon points="334,386.6 336.4,385.6 336.4,401 334,402" fill="#3a3d44" />
<polygon points="337,392.2 346.6,388 351.8,390.4 351.8,399 346,404.6 337.4,400.6" fill="#f3b722" />
<polygon points="340,386.4 346.8,383.6 348.2,384.4 348.2,392 346.8,392.6 346.8,385.4 341,387.8 341,394 340,393.6" fill="#e0a51c" />
<polygon points="341.6,389 345.6,387.4 345.6,394 341.6,395.2" fill="#2f63c4" />
<polygon points="343.6,398 351.8,394 351.8,403.6 345.8,408.6 343.6,407.4" fill="#f6c233" />
<polygon points="345.4,401.6 350.4,399 350.4,403.4 345.4,406.4" fill="#e8702a" />
<ellipse cx="334.4" cy="402.8" rx="2.3" ry="2.7" fill="#2a2c30"/><ellipse cx="334.4" cy="402.8" rx=".9" ry="1.1" fill="#e6b020"/>
<ellipse cx="341.4" cy="408.4" rx="2.3" ry="2.7" fill="#2a2c30"/><ellipse cx="341.4" cy="408.4" rx=".9" ry="1.1" fill="#e6b020"/>
<polygon points="327,421.4 318.6,417.8 318.6,410.8 327,414.4" fill="#f6c79e" />
<polygon points="327,421.4 334.2,417.8 334.2,410.8 327,414.4" fill="#eeb184" />
<polygon points="327,414.4 334.2,410.8 325.8,407.2 318.6,410.8" fill="#fbdcbd" />
<polygon points="329.16,413.67 330.024,413.238 330.024,418.488 329.16,418.92" fill="#e2533a" />
<polygon points="321.12,412.23 322.128,412.662 322.128,417.912 321.12,417.48" fill="#e8694c" />
<polygon points="331.32,412.59 332.184,412.158 332.184,417.408 331.32,417.84" fill="#e2533a" />
<polygon points="323.64,413.31 324.648,413.742 324.648,418.992 323.64,418.56" fill="#e8694c" />
<polygon points="327,420.42 334.2,416.82 334.2,417.8 327,421.4" fill="#c98e55" />
<polygon points="318.6,416.82 327,420.42 327,421.4 318.6,417.8" fill="#d9a266" />
<polygon points="316.6,424.6 307.8,420.8 307.8,413.8 316.6,417.6" fill="#f6c79e" />
<polygon points="316.6,424.6 323.8,421 323.8,414 316.6,417.6" fill="#eeb184" />
<polygon points="316.6,417.6 323.8,414 315,410.2 307.8,413.8" fill="#fbdcbd" />
<polygon points="318.76,416.87 319.624,416.438 319.624,421.688 318.76,422.12" fill="#e2533a" />
<polygon points="310.44,415.29 311.496,415.746 311.496,420.996 310.44,420.54" fill="#e8694c" />
<polygon points="320.92,415.79 321.784,415.358 321.784,420.608 320.92,421.04" fill="#e2533a" />
<polygon points="313.08,416.43 314.136,416.886 314.136,422.136 313.08,421.68" fill="#e8694c" />
<polygon points="316.6,423.62 323.8,420.02 323.8,421 316.6,424.6" fill="#c98e55" />
<polygon points="307.8,419.82 316.6,423.62 316.6,424.6 307.8,420.8" fill="#d9a266" />
<rect x="427.8" y="145.8" width="63.2" height="36.8" rx="1.6" fill="#2a2a2c"/>
<rect x="429.4" y="147.4" width="60" height="33.6" fill="#fdfdfd"/>
<rect x="436.9" y="150.4" width="8.100000000000023" height="2.5" fill="#ef5a22"/>
<rect x="445.7" y="150.4" width="7.400000000000034" height="2.5" fill="#27a844"/>
<rect x="453.8" y="150.4" width="8.099999999999966" height="2.5" fill="#f0a514"/>
<rect x="463" y="150.4" width="7" height="2.5" fill="#2e7df0"/>
<rect x="471" y="150.4" width="8" height="2.5" fill="#2c3fd9"/>
<rect x="480" y="150.4" width="7.600000000000023" height="2.5" fill="#f03524"/>
<rect x="431" y="148.3" width="4.5" height="1.2" fill="#f28a3c"/><rect x="440" y="148.2" width="5" height="1.2" fill="#f05a28"/>
<rect x="437" y="154.2" width="7.6" height="6.4" fill="#fff" stroke="#ececec" stroke-width=".4"/>
<rect x="446" y="154.2" width="7.6" height="6.4" fill="#fff" stroke="#ececec" stroke-width=".4"/>
<rect x="455.5" y="154.2" width="7.6" height="6.4" fill="#fff" stroke="#ececec" stroke-width=".4"/>
<rect x="471.5" y="154.2" width="7.6" height="6.4" fill="#fff" stroke="#ececec" stroke-width=".4"/>
<rect x="480" y="154.2" width="7.6" height="6.4" fill="#fff" stroke="#ececec" stroke-width=".4"/>
<rect x="438.4" y="156" width="3.2" height="1.6" fill="#f28a3c"/>
<rect x="438.4" y="158.2" width="2.2" height="1.6" fill="#f6b58a"/>
<rect x="447.6" y="156.4" width="3.6" height="1.6" fill="#f6a37a"/>
<rect x="457" y="157" width="1" height="1.6" fill="#f2a23c"/>
<rect x="459.4" y="156.4" width="1" height="1.6" fill="#f2a23c"/>
<rect x="461.6" y="157.2" width="1" height="1.6" fill="#f2a23c"/>
<rect x="464" y="156.6" width="1" height="1.6" fill="#f2a23c"/>
<rect x="473" y="156" width="4" height="1.6" fill="#f3c4ae"/>
<rect x="473" y="158.4" width="3" height="1.6" fill="#f3c4ae"/>
<rect x="481.4" y="156.4" width="4" height="1.6" fill="#f7b9a6"/>
<rect x="437" y="162" width="50" height="5" fill="#fff" stroke="#f0f0f0" stroke-width=".4"/>
<rect x="438.5" y="163.4" width="3" height="1.4" fill="#f5b08a"/>
<rect x="455.6" y="163.4" width="3" height="1.4" fill="#f5b08a"/>
<rect x="462" y="163.4" width="3" height="1.4" fill="#f2a23c"/>
<rect x="472" y="163.4" width="3" height="1.4" fill="#f5b08a"/>
<rect x="480.5" y="163.4" width="3" height="1.4" fill="#f2a23c"/>
<rect x="431" y="154" width="1.2" height="14" fill="#e6e6e6"/>
<path d="M439.6,176.4 C443,175.6 445,172.6 448,171.8 C451,171.2 453,173.8 456,174.2 C459,174.4 461,172.6 464,172.8 C467,173 470,171 473.4,171.6 L473.4,176.4 Z" fill="#f5b335" fill-opacity=".85"/>
<path d="M444,176.4 C447,175 449,172.6 452,172.8 C455,173 457,175 460,174.6 C463,174.2 466,172 470,171.4 C472,171.2 473,171.6 473.4,172 L473.4,176.4 Z" fill="#57bf6b" fill-opacity=".6"/>
<rect x="446.6" y="169.4" width="4.6" height="2.2" fill="#555"/>
<rect x="475.6" y="166.8" width="2.4" height="1" fill="#f05a28"/><rect x="479.4" y="166.8" width="2.4" height="1" fill="#f2a23c"/>
<polygon points="456.6,182.6 465.4,182.6 466.4,188.8 455.6,188.8" fill="url(#neck)" />
<path d="M451.6,191.6 Q451.6,188.6 455,188.6 H466.6 Q469,188.6 469,191.6 Z" fill="#e4e4e6"/>
<rect x="451" y="191.2" width="18.4" height="1" fill="#cfcfd2"/>
<rect x="472.7" y="168.8" width="10.9" height="24" rx="1.3" fill="#141416"/>
<rect x="473.6" y="171" width="9.1" height="19.6" fill="#fdfdfd"/>
<rect x="473.6" y="171" width="9.1" height="7.4" fill="#e8481c"/>
<rect x="474.6" y="173.4" width="7" height="1.8" fill="#fff3ea"/><rect x="474.6" y="176.2" width="7" height="1.2" fill="#f57a4a"/>
<rect x="474.4" y="179.6" width="1.6" height="1.6" fill="#3fb7e8"/><rect x="476.8" y="179.6" width="1.6" height="1.6" fill="#f2c230"/><rect x="479.2" y="179.6" width="1.6" height="1.6" fill="#52c46a"/><rect x="481" y="179.6" width="1.2" height="1.6" fill="#f28a3c"/>
<rect x="473.6" y="182.6" width="9.1" height="3.6" fill="#f7a823"/><rect x="478" y="183.2" width="4" height="2.2" fill="#fbd28a"/>
<rect x="474.6" y="187.4" width="2" height="1.6" fill="#333"/><rect x="477.4" y="187.6" width="4" height="1" fill="#bbb"/>
<rect x="646" y="146.4" width="38.8" height="38.6" fill="#fdfdfc"/>
<rect x="646.2" y="146.6" width="1.6" height="38.4" fill="#dedcd5"/>
<rect x="647.8" y="146.6" width="2.2" height="38.4" fill="#5e5e5e"/>
<rect x="680.8" y="146.6" width="1.8" height="38.4" fill="#83817c"/>
<rect x="682.6" y="146.6" width="2" height="38.4" fill="#e0ded8"/>
<rect x="646.2" y="146.6" width="38.4" height="2.3" fill="#f4f3ef"/><rect x="646.2" y="148.9" width="38.4" height=".6" fill="#c9c7c0"/>
<rect x="646.2" y="155.4" width="38.4" height="2.3" fill="#f4f3ef"/><rect x="646.2" y="157.70000000000002" width="38.4" height=".6" fill="#c9c7c0"/>
<rect x="646.2" y="164.6" width="38.4" height="2.3" fill="#f4f3ef"/><rect x="646.2" y="166.9" width="38.4" height=".6" fill="#c9c7c0"/>
<rect x="646.2" y="173" width="38.4" height="2.3" fill="#f4f3ef"/><rect x="646.2" y="175.3" width="38.4" height=".6" fill="#c9c7c0"/>
<rect x="646.2" y="181.4" width="38.4" height="2.3" fill="#f4f3ef"/><rect x="646.2" y="183.70000000000002" width="38.4" height=".6" fill="#c9c7c0"/>
<rect x="647.6" y="146.7" width="5.4" height=".9" fill="#2fc46a"/><rect x="654" y="146.7" width="1.4" height=".9" fill="#e8542a"/>
<rect x="646.4" y="184" width="2.4" height="1.6" fill="#d8d6cf"/><rect x="682.2" y="184" width="2.4" height="1.6" fill="#d8d6cf"/>
<polygon points="211.2,278.6 212.6,276.9 235.4,272.7 240.6,272.2 251.8,276 251.8,278.2 240.6,275.6 236,276.4 234,283 224,281.6 213,281.4" fill="#1d1d1f" />
<polygon points="235.3,272.8 240.6,272.2 240.6,302.6 235.3,301.6" fill="#242426" />
<polygon points="240.6,275.4 252.9,278 252.9,301.2 240.6,302.6" fill="#3b3b3e" />
<polygon points="240.6,272.2 251.8,276 252.9,278 240.6,275.4" fill="#2c2c2e" />
<polygon points="223.5,281.4 234.2,282.4 233.6,288 230.6,298 228.4,307.2 226,308 219,305.6 217.6,303.6 220,296" fill="#2b2b2d" />
<polygon points="223.5,281.4 227,281.8 222.4,297 220.2,304.8 217.6,303.6 220,296" fill="#1c1c1e" />
<rect x="243" y="277.6" width="3" height="2" fill="#77777a"/><rect x="243" y="283.6" width="4" height="1" fill="#66666a"/><rect x="243" y="297" width="6" height="1" fill="#5a5a5e"/>
<polygon points="718,339.8 731.4,336.2 733.9,338.6 720.8,342.6" fill="#a2a4a8" />
<polygon points="718,339.8 720.8,342.6 720.8,343.6 718,340.8" fill="#85878b" />
<polygon points="720.8,342.6 733.9,338.6 733.9,339.6 720.8,343.6" fill="#8d8f93" />
<rect x="719.7" y="286.8" width="12.2" height="50.6" rx="1.3" fill="url(#gateG)"/>
<rect x="719.7" y="286.8" width="12.2" height="50.6" rx="1.3" fill="none" stroke="#dcdde0" stroke-width=".4"/>
<rect x="722.4" y="292.2" width="7.8" height="7.4" fill="#1d56c0"/><rect x="723" y="292.8" width="6.6" height="6.2" fill="#2f8ff0"/><rect x="724.6" y="294.2" width="3.2" height="3.4" fill="#8fd4ff"/>
<path d="M722.6,290.9 Q726.3,288.8 730,290.9" stroke="#39c46a" stroke-width=".9" fill="none"/>
<circle cx="727.2" cy="289" r=".5" fill="#333"/>
<rect x="719.7" y="314.4" width="12.2" height=".4" fill="#d0d2d6"/>
<polygon points="746.7,345.4 759.6,341.2 763.3,344.6 750.6,349.2" fill="#a4a6aa" />
<polygon points="746.7,345.4 750.6,349.2 750.6,350.2 746.7,346.4" fill="#85878b" />
<polygon points="750.6,349.2 763.3,344.6 763.3,345.6 750.6,350.2" fill="#8d8f93" />
<polygon points="750,340.5 757.5,340.5 757.5,344.5 750,346.5" fill="#96989c" />
<path d="M749,342 V282.6 Q749,280.2 751.4,279.9 L758.1,279.3 Q760.5,279.3 760.5,281.8 V341 Z" fill="url(#gateG)"/>
<text transform="translate(302.4,266) rotate(90)" font-family="Liberation Sans, sans-serif" font-size="4.5" fill="url(#binG)" opacity="0.95">1010001000011000100001000011</text>
<text transform="translate(369.9,239) rotate(90)" font-family="Liberation Sans, sans-serif" font-size="4.5" fill="url(#binG)" opacity="0.95">00100010000111111</text>
<text transform="translate(367.7,322) rotate(90)" font-family="Liberation Sans, sans-serif" font-size="4.5" fill="url(#binG)" opacity="0.95">1000011111001010110011111001</text>
<text transform="translate(401.4,203) rotate(90)" font-family="Liberation Sans, sans-serif" font-size="4.5" fill="url(#binG)" opacity="0.95">10011111011</text>
<text transform="translate(424.0,242) rotate(90)" font-family="Liberation Sans, sans-serif" font-size="4.5" fill="url(#binG)" opacity="0.95">0010010011</text>
<text transform="translate(494.79999999999995,194) rotate(90)" font-family="Liberation Sans, sans-serif" font-size="4.5" fill="url(#binG)" opacity="0.95">10011101111100000000</text>
<text transform="translate(449.4,388) rotate(90)" font-family="Liberation Sans, sans-serif" font-size="4.5" fill="url(#binG)" opacity="0.95">1011001110011111011000010010</text>
<text transform="translate(564.0,311) rotate(90)" font-family="Liberation Sans, sans-serif" font-size="4.5" fill="url(#binG)" opacity="0.95">0000100010111100111110001110</text>
<text transform="translate(647.1,262) rotate(90)" font-family="Liberation Sans, sans-serif" font-size="4.5" fill="url(#binG)" opacity="0.95">00100101101010001001</text>
</svg>
</div>
</body></html>
